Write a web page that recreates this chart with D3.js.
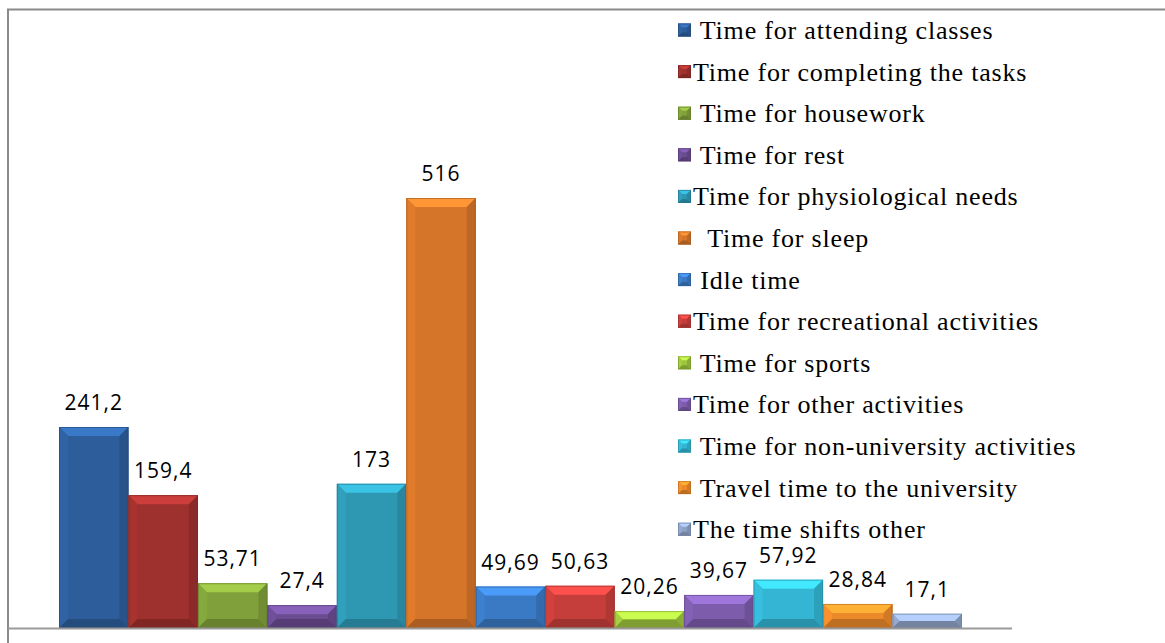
<!DOCTYPE html>
<html>
<head>
<meta charset="utf-8">
<script src="https://cdn.jsdelivr.net/npm/d3@7"></script>
<style>
  body { margin: 0; background: #fff; }
  svg { display: block; }
  .lbl { font-family: "Open Sans", sans-serif; font-size: 21px; fill: #000; }
  .leg { font-family: "Liberation Serif", "Times New Roman", serif; font-size: 26px; fill: #000; white-space: pre; letter-spacing: 0.8px; }
</style>
</head>
<body>
<svg id="chart" width="1165" height="643"></svg>
<script>
// series names (legend order), values and value labels as printed
var names = [" Time for attending classes", "Time for completing the tasks", " Time for housework",
  " Time for rest", "Time for physiological needs", "  Time for sleep", " Idle time",
  "Time for recreational activities", " Time for sports", "Time for other activities",
  " Time for non-university activities", " Travel time to the university", "The time shifts other"];
var values = [241.2, 159.4, 53.71, 27.4, 173, 516, 49.69, 50.63, 20.26, 39.67, 57.92, 28.84, 17.1];
var labels = ["241,2", "159,4", "53,71", "27,4", "173", "516", "49,69", "50,63", "20,26", "39,67", "57,92", "28,84", "17,1"];
var colors = ["#2d5e9b", "#9e302d", "#7fa03a", "#6a4c91", "#2e98b3", "#d5752a",
  "#3a79c3", "#c63e3b", "#9dc43e", "#7c5cab", "#33b5d3", "#ec8a2a", "#8ea2c6"];

var svg = d3.select("#chart");

// frame (only top and left edges are visible in the crop)
svg.append("path")
  .attr("d", "M8,643 V9.5 H1165")
  .attr("fill", "none")
  .attr("stroke", "#8a8a8a")
  .attr("stroke-width", 2);

var x = d3.scaleBand().domain(d3.range(values.length)).range([59, 962]).paddingInner(0);
var y = d3.scaleLinear().domain([0, 600]).range([628, 128]);

// bevelled bars
function bevel(g, x0, x1, y0, y1, c, maxB) {
  var b = Math.min(maxB, (y1 - y0) / 2, (x1 - x0) / 2);
  var col = d3.color(c);
  g.append("rect").attr("x", x0).attr("y", y0).attr("width", x1 - x0).attr("height", y1 - y0)
    .attr("fill", col.formatHex());
  function poly(pts, fill) {
    g.append("polygon").attr("points", pts.map(function (p) { return p.join(","); }).join(" ")).attr("fill", fill);
  }
  poly([[x0, y0], [x1, y0], [x1 - b, y0 + b], [x0 + b, y0 + b]], col.brighter(0.7).formatHex());
  poly([[x0, y0], [x0 + b, y0 + b], [x0 + b, y1 - b], [x0, y1]], col.brighter(0.15).formatHex());
  poly([[x1, y0], [x1, y1], [x1 - b, y1 - b], [x1 - b, y0 + b]], col.darker(0.35).formatHex());
  poly([[x0, y1], [x1, y1], [x1 - b, y1 - b], [x0 + b, y1 - b]], col.darker(0.6).formatHex());
  g.append("rect").attr("x", x0 + 0.5).attr("y", y0 + 0.5).attr("width", x1 - x0 - 1).attr("height", y1 - y0 - 1)
    .attr("fill", "none").attr("stroke", col.darker(0.8).formatHex()).attr("stroke-width", 1).attr("stroke-opacity", 0.6);
}

var bars = svg.append("g");
values.forEach(function (v, i) {
  bevel(bars.append("g"), x(i), x(i) + x.bandwidth(), y(v), y(0), colors[i], 9);
});

// axis line
svg.append("line")
  .attr("x1", 8).attr("x2", 1012).attr("y1", y(0) + 0.5).attr("y2", y(0) + 0.5)
  .attr("stroke", "#9a9a9a").attr("stroke-width", 2);

// value labels
svg.append("g").selectAll("text").data(values).join("text")
  .attr("class", "lbl")
  .attr("x", function (d, i) { return x(i) + x.bandwidth() / 2; })
  .attr("y", function (d) { return y(d) - 17; })
  .attr("text-anchor", "middle")
  .style("letter-spacing", "1px")
  .text(function (d, i) { return labels[i]; });

// legend
var leg = svg.append("g").attr("transform", "translate(678,30)");
names.forEach(function (n, i) {
  var row = leg.append("g").attr("transform", "translate(0," + (i * 41.6) + ")");
  bevel(row.append("g"), 0, 13, -6.5, 6.5, colors[i], 4);
  row.append("text").attr("class", "leg")
    .attr("x", 15).attr("y", 9)
    .text(n);
});
</script>
</body>
</html>
